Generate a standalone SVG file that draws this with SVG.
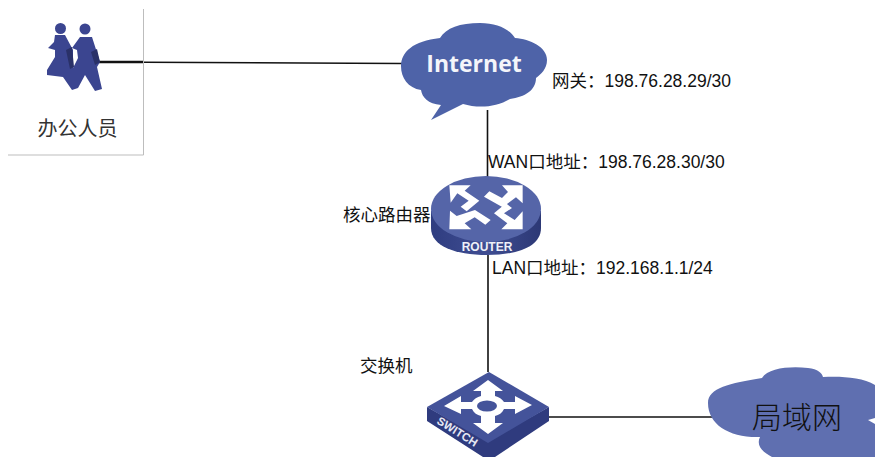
<svg xmlns="http://www.w3.org/2000/svg" width="875" height="457" viewBox="0 0 875 457">
<style>
text{font-family:"Liberation Sans","Noto Sans CJK SC",sans-serif;fill:#111}
.lbl{font-size:17.500px}
.link{stroke:#111;stroke-width:1.6;fill:none}
.wt{fill:#fff}
</style>
<defs>
<linearGradient id="side" x1="0" x2="1" y1="0" y2="0"><stop offset="0" stop-color="#2f3d80"/><stop offset="0.5" stop-color="#3f4d92"/><stop offset="1" stop-color="#2c3875"/></linearGradient>
</defs>
<rect width="875" height="457" fill="#fff"/>
<g id="connectors">
<path class="link" style="stroke-width:2.400" d="M99 62 L144 62"/>
<path class="link" d="M144 62.300 L402 63.500"/>
<path class="link" d="M487.500 110 L487.500 182"/>
<path class="link" d="M488 255 L488 372"/>
<path class="link" d="M548 417 L716 417"/>
</g>
<g id="office">
<path d="M143.500 9 L143.500 155 L8 155" fill="none" stroke="#bdbdbd" stroke-width="1"/>
<g fill="#3b4590">
<circle cx="60.500" cy="28.500" r="5.500"/>
<path d="M55 35 L65 35 L73 50 L73 67 L78 88 L72 90 L63 77 L55 76 L47 75 L47 70 L55 57 L55 50 L48 48 L54 42 Z"/>
<circle cx="85" cy="29" r="5.500"/>
<path d="M80 37 L92 37 L100 62 L97 67 L102 89 L95 91 L85 75 L78 88 L72 84 L72 70 L78 58 L77 50 L72 48 Z"/>
</g>
<path d="M66 50 L72 47 L74 67 L70 69 Z M91 52 L97 49 L100 62 L95 65 Z" fill="#2a3168"/>
<text x="77.500" y="136" text-anchor="middle" font-size="20" style="fill:#333">办公人员</text>
</g>
<g id="internet">
<path fill="#4e63a8" d="M431 120 L441 105 C428 104 422 97 421 90 C408 88 401 78 401 66 C401 52 413 41 440 38 C446 28 460 23 480 23 C497 23 509 29 515 38 C530 39 547 47 547 60 C547 69 541 74 536 78 C536 90 525 97 510 99 C495 108 477 108 463 104 Z"/>
<text x="474" y="72" text-anchor="middle" font-size="23" font-weight="bold" style="fill:#f4f5fa;font-family:'Open Sans','Liberation Sans',sans-serif">Internet</text>
</g>
<g id="router">
<path fill="url(#side)" d="M431 211 L431 228 C431 246 455 255 487 255 C519 255 541 246 541 228 L541 211 Z"/>
<ellipse cx="486" cy="209" rx="55" ry="33" fill="#5565a8"/>
<g class="wt" transform="translate(420 170) scale(0.3333)">
<polygon points="88,46 152,46 134,62 178,92 140,124 122,110 146,92 112,70 92,98"/>
<polygon points="308,46 308,100 288,82 248,112 192,80 208,64 246,84 264,66 246,46"/>
<polygon points="88,178 90,122 110,138 165,120 212,150 196,164 164,142 134,160 154,178"/>
<polygon points="308,178 244,178 262,160 222,130 258,100 276,114 252,130 284,150 308,124"/>
</g>
<text x="487" y="251" text-anchor="middle" font-size="12" font-weight="bold" style="fill:#eef0f8">ROUTER</text>
</g>
<g id="switch">
<path fill="#2f3b7e" d="M427 407 L427 421 L483 457 L495 457 L549 421 L549 407 L488 441 Z"/>
<path fill="#44539a" d="M489 372 L549 407 L488 443 L427 407 Z"/>
<path class="wt" d="M488 380 L503 391 L495 391 L495 396 C499 397 502 399 504 402 L515 402 L515 396 L532 405 L515 414 L515 409 L504 409 C502 413 499 415 495 416 L495 423 L503 423 L488 434 L473 423 L481 423 L481 416 C477 415 474 413 472 409 L461 409 L461 414 L444 406 L461 396 L461 402 L472 402 C474 399 477 397 481 396 L481 391 L473 391 Z"/>
<ellipse cx="487" cy="406" rx="10" ry="5.500" fill="#44539a"/>
<text x="0" y="0" transform="translate(436 423) rotate(32)" font-size="11.500" font-weight="bold" style="fill:#e6e8f4">SWITCH</text>
</g>
<g id="lan">
<path fill="#5f6fb0" d="M708 403 C708 388 730 383 762 378 C768 368 790 366 808 368 C818 369 822 373 823 377 C840 376 862 377 875 385 L875 418 L868 420 L875 424 L875 457 L772 457 C762 452 756 445 760 437 C730 438 708 425 708 403 Z"/>
<text x="797" y="428" text-anchor="middle" font-size="30" font-family="'Noto Sans CJK SC'" font-weight="300">局域网</text>
</g>
<g id="labels">
<text class="lbl" x="552" y="87">网关：198.76.28.29/30</text>
<text class="lbl" x="488" y="168">WAN口地址：198.76.28.30/30</text>
<text class="lbl" x="492" y="274">LAN口地址：192.168.1.1/24</text>
<text class="lbl" x="343" y="221">核心路由器</text>
<text class="lbl" x="360" y="372">交换机</text>
</g>
</svg>
